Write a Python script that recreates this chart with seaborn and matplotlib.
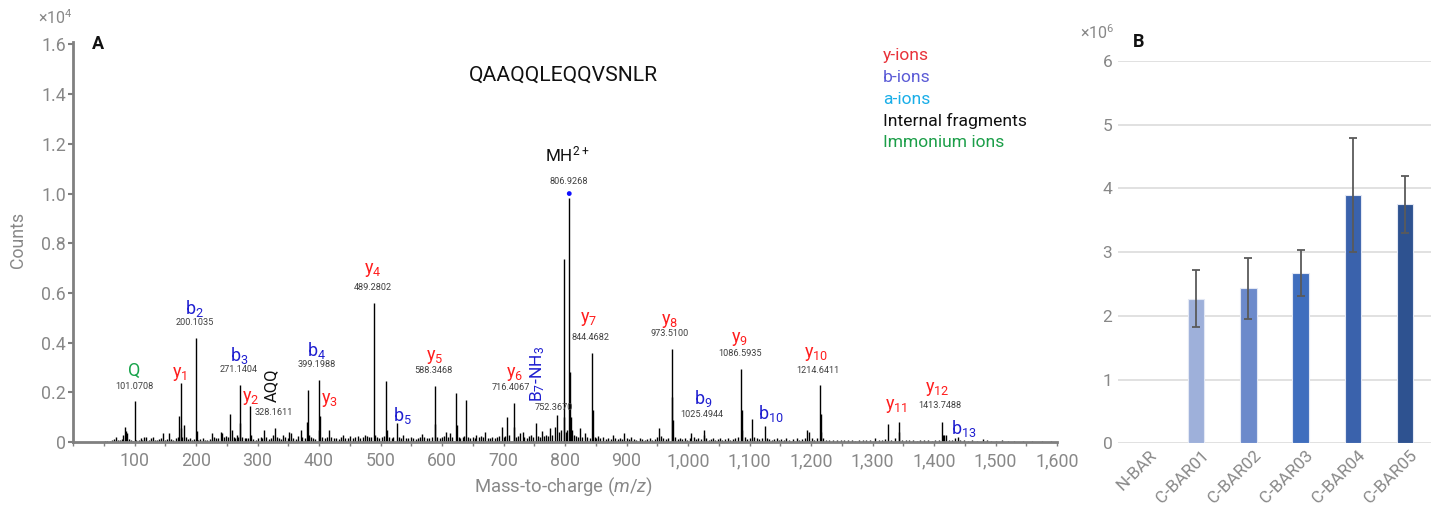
import numpy as np
import pandas as pd
import matplotlib
matplotlib.use("Agg")
import matplotlib.pyplot as plt
import matplotlib.transforms as mtransforms
from matplotlib.ticker import FuncFormatter, MultipleLocator
import seaborn as sns

# ---------------- data: panel A (MS/MS spectrum, counts x1e4) ----------------
peak_mz = [101.07, 175.12, 200.10, 271.14, 288.19, 328.16, 381.5, 399.20, 402.24,
           489.28, 508.5, 527.26, 588.35, 622.0, 638.5, 705.5, 716.41, 752.37,
           787.5, 797.9, 806.93, 807.9, 844.47, 973.51, 974.5, 1025.49, 1086.59,
           1104.5, 1124.56, 1214.64, 1325.7, 1342.71, 1413.75, 1438.71]
peak_int = [0.164, 0.239, 0.420, 0.228, 0.144, 0.056, 0.208, 0.251, 0.106,
            0.561, 0.244, 0.076, 0.224, 0.197, 0.168, 0.100, 0.156, 0.076,
            0.109, 0.735, 0.981, 0.280, 0.359, 0.375, 0.181, 0.050, 0.295,
            0.092, 0.066, 0.228, 0.071, 0.081, 0.081, 0.020]

noise_mz = [52, 56, 60, 63, 67, 70, 73, 76, 79, 82, 84, 86, 88, 91, 94, 97, 103, 107,
            110, 113, 116, 119, 124, 127, 130, 133, 137, 140, 143, 147, 150, 153, 156,
            159, 163, 167, 170, 172, 176, 178, 181, 184, 187, 190, 193, 197, 201, 204,
            207, 211, 214, 218, 222, 226, 229, 232, 236, 240, 243, 246, 249, 252, 255,
            258, 261, 264, 266, 269, 272, 275, 279, 282, 285, 289, 293, 297, 301, 305,
            308, 311, 314, 318, 322, 325, 331, 335, 338, 342, 345, 349, 352, 355, 358,
            362, 366, 370, 373, 377, 380, 384, 387, 390, 393, 400.2, 405, 409, 413, 416,
            420, 424, 428, 432, 436, 439, 443, 447, 451, 455, 459, 463, 467, 471, 475,
            478, 482, 485, 490.3, 494, 498, 502, 505, 511, 514, 518, 521, 530, 534, 537,
            541, 545, 549, 553, 557, 561, 564, 568, 571, 575, 579, 583, 589.3, 592, 596,
            600, 604, 607, 610, 613, 617, 624, 627, 630, 634, 636, 642, 646, 650, 653,
            656, 660, 663, 667, 670, 674, 678, 682, 686, 690, 693, 697, 700, 703, 709,
            717.4, 721, 724, 727, 731, 734, 738, 742, 745, 748, 756, 759, 762, 766, 769,
            772, 775.6, 779, 783.7, 791, 794, 799, 802, 804, 809, 811, 814, 818, 821,
            824.6, 828, 832.5, 836, 840, 845.5, 848, 851, 853.7, 857, 862, 866, 870, 874,
            878.6, 882, 886, 890, 893, 896, 900, 904, 908, 912, 916, 921.8, 926, 930, 934,
            938, 942, 946, 950, 953, 956, 960, 964, 968, 975.5, 979, 983, 987, 991, 995,
            999, 1003, 1005.5, 1009, 1013, 1017, 1021, 1026.5, 1030, 1034, 1038, 1040,
            1044, 1048, 1052, 1056, 1060, 1065, 1069, 1073, 1077, 1081, 1087.6, 1088.6,
            1092, 1096, 1100, 1108, 1112, 1116, 1120, 1128, 1132, 1136, 1140, 1144, 1148,
            1152, 1156, 1160, 1165, 1170, 1176.7, 1180, 1185, 1190, 1194, 1197, 1201,
            1205, 1209, 1215.6, 1216.6, 1220, 1225, 1230, 1236, 1242, 1248, 1254, 1260,
            1266, 1272, 1278, 1284, 1290, 1296, 1304, 1310, 1316, 1320, 1330, 1336,
            1343.7, 1348, 1354, 1360, 1366, 1372, 1378, 1384, 1390, 1396, 1402, 1408,
            1414.7, 1417, 1420, 1425, 1430, 1434, 1442, 1448, 1455, 1462, 1470, 1480,
            1486, 1492, 1500, 1510, 1520, 1530, 1545, 1560, 1575, 1590]
noise_int = [0.004, 0.006, 0.005, 0.008, 0.012, 0.020, 0.010, 0.008, 0.014, 0.030, 0.060,
             0.045, 0.035, 0.012, 0.008, 0.006, 0.010, 0.008, 0.018, 0.010, 0.020, 0.022,
             0.008, 0.015, 0.022, 0.010, 0.008, 0.012, 0.018, 0.036, 0.010, 0.012, 0.036,
             0.014, 0.010, 0.015, 0.020, 0.105, 0.055, 0.020, 0.068, 0.020, 0.012, 0.016,
             0.010, 0.012, 0.045, 0.010, 0.012, 0.016, 0.010, 0.008, 0.012, 0.035, 0.020,
             0.015, 0.018, 0.042, 0.035, 0.020, 0.025, 0.020, 0.112, 0.050, 0.020, 0.015,
             0.030, 0.020, 0.076, 0.020, 0.015, 0.018, 0.015, 0.030, 0.012, 0.010, 0.015,
             0.020, 0.015, 0.050, 0.020, 0.012, 0.015, 0.030, 0.020, 0.015, 0.012, 0.030,
             0.020, 0.015, 0.040, 0.035, 0.015, 0.012, 0.025, 0.050, 0.020, 0.015, 0.080,
             0.030, 0.020, 0.015, 0.012, 0.050, 0.020, 0.015, 0.020, 0.049, 0.020, 0.015,
             0.018, 0.012, 0.020, 0.030, 0.015, 0.018, 0.025, 0.015, 0.020, 0.025, 0.018,
             0.020, 0.030, 0.025, 0.020, 0.020, 0.030, 0.020, 0.015, 0.020, 0.025, 0.050,
             0.020, 0.015, 0.020, 0.020, 0.015, 0.027, 0.018, 0.015, 0.020, 0.015, 0.012,
             0.018, 0.020, 0.033, 0.020, 0.015, 0.018, 0.020, 0.073, 0.020, 0.015, 0.020,
             0.025, 0.040, 0.020, 0.035, 0.020, 0.070, 0.020, 0.018, 0.020, 0.025, 0.020,
             0.018, 0.020, 0.015, 0.027, 0.020, 0.025, 0.020, 0.040, 0.018, 0.015, 0.020,
             0.018, 0.020, 0.025, 0.060, 0.020, 0.025, 0.030, 0.060, 0.020, 0.025, 0.035,
             0.040, 0.020, 0.018, 0.025, 0.030, 0.020, 0.025, 0.020, 0.043, 0.025, 0.030,
             0.025, 0.055, 0.030, 0.060, 0.040, 0.050, 0.100, 0.040, 0.050, 0.100, 0.050,
             0.030, 0.025, 0.020, 0.058, 0.020, 0.037, 0.020, 0.018, 0.130, 0.020, 0.015,
             0.024, 0.015, 0.020, 0.012, 0.015, 0.012, 0.027, 0.015, 0.012, 0.015, 0.012,
             0.035, 0.015, 0.012, 0.020, 0.012, 0.010, 0.018, 0.012, 0.010, 0.012, 0.018,
             0.010, 0.012, 0.020, 0.055, 0.025, 0.015, 0.012, 0.015, 0.090, 0.020, 0.012,
             0.018, 0.012, 0.015, 0.010, 0.015, 0.035, 0.020, 0.012, 0.015, 0.012, 0.030,
             0.015, 0.010, 0.012, 0.018, 0.010, 0.012, 0.018, 0.010, 0.012, 0.018, 0.010,
             0.012, 0.015, 0.020, 0.128, 0.050, 0.020, 0.012, 0.015, 0.020, 0.015, 0.012,
             0.018, 0.015, 0.012, 0.010, 0.012, 0.018, 0.010, 0.012, 0.010, 0.015, 0.010,
             0.012, 0.018, 0.010, 0.012, 0.015, 0.050, 0.040, 0.015, 0.010, 0.015, 0.113,
             0.040, 0.015, 0.010, 0.008, 0.010, 0.008, 0.010, 0.008, 0.010, 0.008, 0.006,
             0.008, 0.010, 0.008, 0.010, 0.016, 0.008, 0.010, 0.012, 0.010, 0.015, 0.040,
             0.010, 0.008, 0.010, 0.008, 0.006, 0.008, 0.010, 0.008, 0.006, 0.008, 0.010,
             0.030, 0.027, 0.030, 0.010, 0.008, 0.016, 0.010, 0.008, 0.006, 0.008, 0.006,
             0.013, 0.008, 0.006, 0.005, 0.008, 0.005, 0.004, 0.004, 0.003, 0.004, 0.003]

precursor_mz = [806.93]
precursor_int = [1.0]
peptide = "QAAQQLEQQVSNLR"

# ion annotations (text, colour key)
ion_text = ["Q", "y$_{1}$", "b$_{2}$", "b$_{3}$", "y$_{2}$", "b$_{4}$", "y$_{3}$",
            "y$_{4}$", "b$_{5}$", "y$_{5}$", "y$_{6}$", "y$_{7}$", "y$_{8}$", "b$_{9}$",
            "y$_{9}$", "b$_{10}$", "y$_{10}$", "y$_{11}$", "y$_{12}$", "b$_{13}$",
            "MH$^{2+}$"]
ion_kind = ["imm", "y", "b", "b", "y", "b", "y", "y", "b", "y", "y", "y", "y", "b",
            "y", "b", "y", "y", "y", "b", "prec"]
mz_text = ["101.0708", "200.1035", "271.1404", "328.1611", "399.1988", "489.2802",
           "588.3468", "716.4067", "752.3670", "844.4682", "973.5100", "1025.4944",
           "1086.5935", "1214.6411", "1413.7488", "806.9268"]
legend_text = ["y-ions", "b-ions", "a-ions", "Internal fragments", "Immonium ions"]

# ---------------- data: panel B ----------------
bar_cats = ["N-BAR", "C-BAR01", "C-BAR02", "C-BAR03", "C-BAR04", "C-BAR05"]
bar_vals = [0.0, 2.27, 2.43, 2.67, 3.90, 3.75]
bar_err = [0.0, 0.45, 0.475, 0.36, 0.89, 0.45]

# ---------------- layout / styles ----------------
ion_pos = [(99.3, 0.286), (174, 0.272), (197, 0.536), (270.7, 0.348), (289, 0.178),
           (396.6, 0.368), (416.7, 0.168), (487.8, 0.691), (535, 0.108), (588, 0.341),
           (717.8, 0.275), (837.7, 0.496), (970.5, 0.488), (1024.3, 0.176),
           (1083, 0.415), (1134.4, 0.116), (1207.7, 0.355), (1337.9, 0.144),
           (1405.7, 0.212), (1449, 0.056), (803.5, 1.158)]
mz_pos = [(99.3, 0.225), (198.6, 0.48), (269, 0.292), (326, 0.119), (396.6, 0.312),
          (487.8, 0.623), (586.5, 0.289), (712.3, 0.219), (781.8, 0.137),
          (841.5, 0.419), (970.5, 0.435), (1023, 0.109), (1084.5, 0.356),
          (1212, 0.288), (1410, 0.145), (805.6, 1.049)]
kind_color = {"y": "#ff1e1e", "b": "#1f1fd0", "imm": "#17a34a", "prec": "#111111"}
legend_colors = ["#e8323a", "#5b5bd6", "#1aaee8", "#111111", "#1b9e48"]
bar_colors = ["#c9d3ec", "#9eb0da", "#6c8acb", "#3f6ebe", "#3a62ac", "#2e5290"]
grey = "#888888"
axis_grey = "#808080"

sns.set_theme(style="white")
plt.rcParams['font.family'] = ['Roboto', 'DejaVu Sans']
plt.rcParams['mathtext.fontset'] = 'custom'
plt.rcParams['mathtext.rm'] = 'Roboto'
plt.rcParams['mathtext.it'] = 'Roboto:italic'
plt.rcParams['mathtext.bf'] = 'Roboto:bold'
plt.rcParams['mathtext.default'] = 'regular'

W, H = 1440, 511
fig = plt.figure(figsize=(W / 100, H / 100), dpi=100)
ax1 = fig.add_axes([73 / W, (H - 442) / H, 984 / W, 400 / H])
ax2 = fig.add_axes([1118 / W, (H - 443.3) / H, 313 / W, 382.3 / H])

# ---------------- panel A ----------------
spec = pd.DataFrame({"mz": list(noise_mz) + list(peak_mz),
                     "inten": list(noise_int) + list(peak_int)})
ax1.vlines(spec["mz"], 0, spec["inten"], color="black", lw=1.0, zorder=2)
sns.scatterplot(x=precursor_mz, y=precursor_int, ax=ax1, color="#1010ff", s=12,
                edgecolor="none", zorder=5, legend=False)

ax1.set_xlim(0, 1600)
ax1.set_ylim(0, 1.61)
for s in ["top", "right"]:
    ax1.spines[s].set_visible(False)
for s in ["left", "bottom"]:
    ax1.spines[s].set_color(axis_grey)
    ax1.spines[s].set_linewidth(2)
ax1.spines["left"].set_bounds(0, 1.61)
ax1.set_yticks(np.arange(0, 1.61, 0.2))
ax1.yaxis.set_major_formatter(FuncFormatter(lambda v, p: "0" if abs(v) < 1e-9 else f"{v:.1f}"))
ax1.set_xticks(np.arange(100, 1601, 100))
ax1.xaxis.set_major_formatter(FuncFormatter(lambda v, p: f"{int(v):,}"))
ax1.xaxis.set_minor_locator(MultipleLocator(50))
ax1.tick_params(axis="y", direction="out", length=3.5, width=1.5, color=axis_grey,
                labelcolor=grey, labelsize=12.8, pad=1.5, left=True)
ax1.tick_params(axis="x", which="both", direction="out", length=3, width=1,
                color=axis_grey, labelcolor=grey, labelsize=12.8, pad=4.5, bottom=True)
ax1.set_xlabel("")
ax1.set_ylabel("")

ax1.text(0.498, -0.112, "Mass-to-charge ($\\mathit{m/z}$)", transform=ax1.transAxes,
         ha="center", va="center", fontsize=13.3, color=grey)
ax1.text(-0.056, 0.505, "Counts", transform=ax1.transAxes, rotation=90,
         ha="center", va="center", fontsize=12.8, color=grey)
ax1.text(-0.0183, 1.06, "×10$^{4}$", transform=ax1.transAxes, ha="center",
         va="center", fontsize=11.5, color=grey, clip_on=False)
ax1.text(40.7, 1.60, "A", ha="center", va="center", fontsize=13,
         fontweight="bold", color="#111111", clip_on=False)
ax1.text(797.5, 1.476, peptide, ha="center", va="center", fontsize=15.2, color="#111111")

for t, k, (x, y) in zip(ion_text, ion_kind, ion_pos):
    ax1.text(x, y, t, ha="center", va="center", fontsize=12.3 if k == "prec" else 13,
             color=kind_color[k])
for t, (x, y) in zip(mz_text, mz_pos):
    ax1.text(x, y, t, ha="center", va="center", fontsize=6.6, color="#404040")
ax1.text(323.4, 0.228, "AQQ", rotation=90, ha="center", va="center", fontsize=12,
         color="#111111")
ax1.text(756, 0.272, "B$_{7}$-NH$_{3}$", rotation=90, ha="center", va="center",
         fontsize=12.5, color="#1f1fd0")

for i, (t, c) in enumerate(zip(legend_text, legend_colors)):
    ax1.text(1316.7, 1.556 - 0.088 * i, t, ha="left", va="center", fontsize=12.6, color=c)

# ---------------- panel B ----------------
df = pd.DataFrame({"cat": bar_cats, "val": bar_vals, "err": bar_err})
sns.barplot(data=df, x="cat", y="val", hue="cat", palette=bar_colors, legend=False,
            width=0.31, errorbar=None, saturation=1, edgecolor="#e3e8f4",
            linewidth=0.8, ax=ax2, zorder=3)
ax2.errorbar(x=np.arange(1, len(bar_cats)), y=df["val"][1:], yerr=df["err"][1:],
             fmt="none", ecolor="#5a5a5a", elinewidth=1.3, capsize=3, capthick=1.3,
             zorder=4)
ax2.set_xlim(-0.5, 5.5)
ax2.set_ylim(0, 6)
ax2.set_yticks(range(0, 7))
ax2.yaxis.grid(True, color="#d9d9d9", lw=1.1)
ax2.set_axisbelow(True)
for s in ax2.spines.values():
    s.set_visible(False)
ax2.set_xlabel("")
ax2.set_ylabel("")
ax2.tick_params(axis="y", length=0, labelsize=12.5, labelcolor=grey, pad=4)
ax2.tick_params(axis="x", length=0, labelsize=12.3, labelcolor=grey, pad=7)
ax2.set_xticks(range(len(bar_cats)))
ax2.set_xticklabels(bar_cats, rotation=45, ha="right", va="center",
                    rotation_mode="anchor")
offset = mtransforms.ScaledTranslation(10 / 100, 0, fig.dpi_scale_trans)
for lab in ax2.get_xticklabels():
    lab.set_transform(lab.get_transform() + offset)
ax2.text(-0.067, 1.073, "×10$^{6}$", transform=ax2.transAxes, ha="center",
         va="center", fontsize=11.5, color=grey)
ax2.text(0.067, 1.05, "B", transform=ax2.transAxes, ha="center", va="center",
         fontsize=13, fontweight="bold", color="#111111")

fig.savefig("out.png", dpi=100)
